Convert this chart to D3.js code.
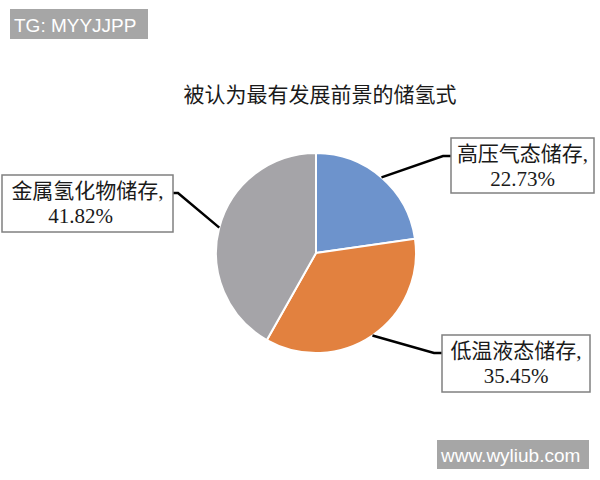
<!DOCTYPE html>
<html>
<head>
<meta charset="utf-8">
<script src="https://cdn.jsdelivr.net/npm/d3@7"></script>
<style>
  html, body { margin: 0; padding: 0; background: #fff; }
  svg { display: block; }
</style>
</head>
<body>
<svg id="chart" width="600" height="480"></svg>
<script>
// ---- data ----
const title = "被认为最有发展前景的储氢式";
const categories = ["高压气态储存", "低温液态储存", "金属氢化物储存"];
const values = [22.73, 35.45, 41.82];
const valueLabels = ["22.73%", "35.45%", "41.82%"];
const colors = ["#6d93cc", "#e2813f", "#a5a4a8"];

// ---- layout (positions, not data) ----
const W = 600, H = 480;
const cx = 316, cy = 253, R = 100;
const boxes = [
  { x: 451, y: 138, w: 143, h: 55, side: "left" },
  { x: 442, y: 335, w: 148, h: 57, side: "left" },
  { x: 2,   y: 175, w: 171, h: 57, side: "right" }
];
const fontFamily = "'Liberation Serif', 'Noto Sans CJK SC', serif";

const svg = d3.select("#chart");
svg.append("rect").attr("width", W).attr("height", H).attr("fill", "#fff");

// title
svg.append("text")
  .attr("x", 320).attr("y", 102)
  .attr("text-anchor", "middle")
  .attr("font-family", fontFamily)
  .attr("font-size", 21)
  .attr("fill", "#1a1a1a")
  .text(title);

// pie
const pie = d3.pie().sort(null).value(d => d)(values);
const arc = d3.arc().innerRadius(0).outerRadius(R);
const g = svg.append("g").attr("transform", `translate(${cx},${cy})`);
g.selectAll("path").data(pie).join("path")
  .attr("d", arc)
  .attr("fill", (d, i) => colors[i])
  .attr("stroke", "#fff")
  .attr("stroke-width", 2);

// leader lines + labels
const edgeArc = d3.arc().innerRadius(R * 2).outerRadius(R * 0); // centroid at radius R
pie.forEach((d, i) => {
  const b = boxes[i];
  const [px, py] = edgeArc.centroid(d);
  const sx = cx + px, sy = cy + py;
  const attachY = b.y + 18;
  const attachX = b.side === "left" ? b.x : b.x + b.w;
  const elbowX = b.side === "left" ? attachX - 8 : attachX + 5;
  svg.append("path")
    .attr("d", `M${sx},${sy}L${elbowX},${attachY}L${attachX},${attachY}`)
    .attr("fill", "none")
    .attr("stroke", "#000")
    .attr("stroke-width", 2.5);

  svg.append("rect")
    .attr("x", b.x).attr("y", b.y).attr("width", b.w).attr("height", b.h)
    .attr("fill", "#fff")
    .attr("stroke", "#808080")
    .attr("stroke-width", 1.5);

  const t = svg.append("text")
    .attr("text-anchor", "middle")
    .attr("font-family", fontFamily)
    .attr("font-size", 21)
    .attr("fill", "#1a1a1a");
  t.append("tspan").attr("x", b.x + b.w / 2).attr("y", b.y + 23).text(categories[i] + ",");
  t.append("tspan").attr("x", b.x + b.w / 2 - (i === 2 ? 7 : 0)).attr("y", b.y + 48).text(valueLabels[i]);
});

// watermarks
function watermark(x, y, w, h, txt) {
  svg.append("rect").attr("x", x).attr("y", y).attr("width", w).attr("height", h).attr("fill", "#a6a6a6");
  svg.append("text")
    .attr("x", x + 4).attr("y", y + h - 7)
    .attr("font-family", "'Liberation Sans', Arial, sans-serif")
    .attr("font-size", 19)
    .attr("fill", "#fff")
    .text(txt);
}
watermark(10, 9, 138, 30, "TG: MYYJJPP");
watermark(437, 440, 152, 29, "www.wyliub.com");
</script>
</body>
</html>
